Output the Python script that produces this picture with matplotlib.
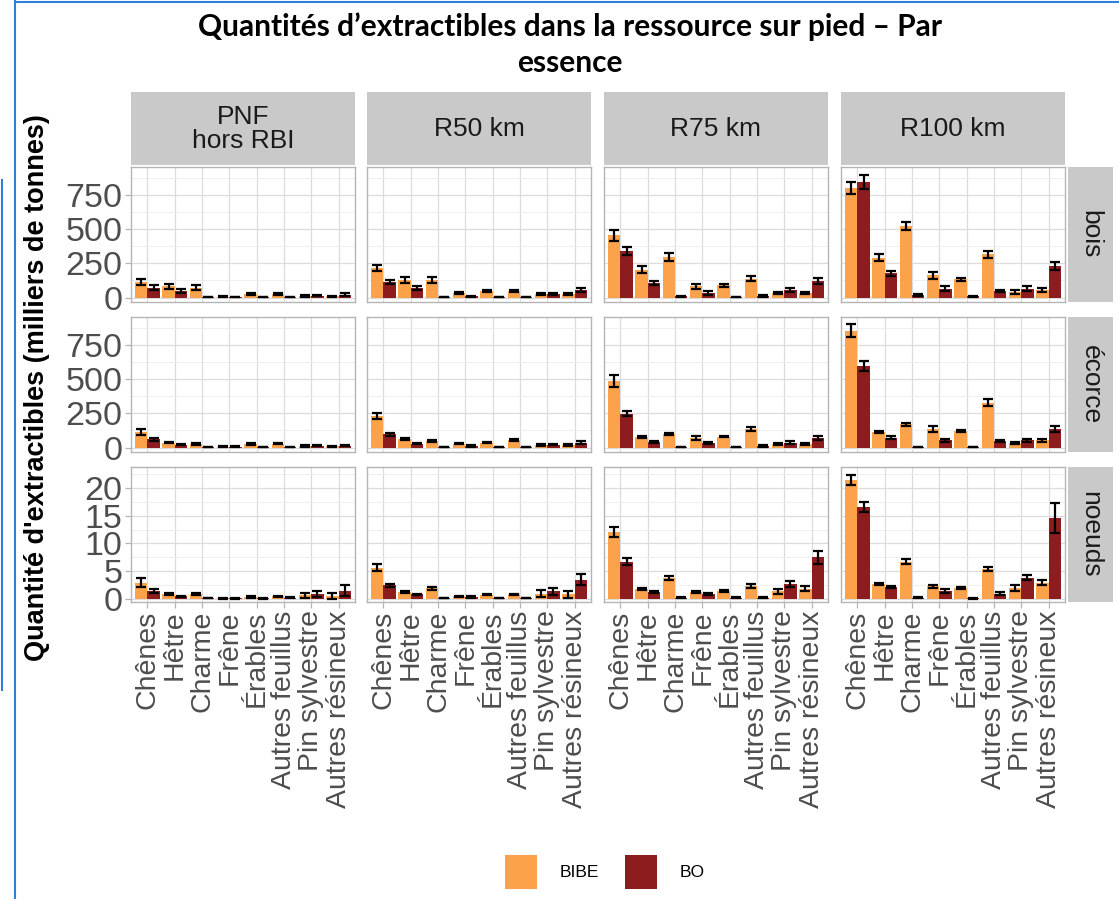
import matplotlib
matplotlib.use("Agg")
import matplotlib.pyplot as plt
import numpy as np
from matplotlib.lines import Line2D
from matplotlib.patches import Patch

plt.rcParams["font.family"] = ["Liberation Sans", "DejaVu Sans"]

especes = ["Chênes", "Hêtre", "Charme", "Frêne", "Érables",
           "Autres feuillus", "Pin sylvestre", "Autres résineux"]
zones = ["PNF\nhors RBI", "R50 km", "R75 km", "R100 km"]
parties = ["bois", "écorce", "noeuds"]

# one sub-list per zone (PNF, R50, R75, R100), values in thousands of tonnes
bibe_bois = [[115, 82, 73, 8, 24, 27, 12, 9],
             [216, 126, 131, 34, 48, 48, 29, 24],
             [454, 204, 296, 82, 90, 138, 34, 34],
             [799, 292, 522, 163, 133, 316, 41, 53]]
bibe_bois_err = [[22, 18, 20, 4, 6, 7, 5, 4],
                 [25, 22, 22, 8, 8, 8, 8, 6],
                 [40, 25, 30, 18, 10, 18, 10, 10],
                 [45, 25, 30, 25, 10, 25, 12, 15]]
bo_bois = [[73, 48, 5, 4, 5, 5, 14, 22],
           [114, 73, 5, 10, 5, 5, 29, 58],
           [340, 107, 10, 34, 5, 12, 53, 121],
           [843, 179, 20, 66, 10, 48, 66, 230]]
bo_bois_err = [[18, 15, 3, 3, 3, 3, 5, 10],
               [18, 15, 3, 5, 3, 3, 8, 15],
               [30, 15, 5, 12, 3, 5, 15, 25],
               [50, 18, 8, 15, 5, 10, 15, 30]]

bibe_ecorce = [[114, 36, 25, 8, 25, 29, 12, 10],
               [230, 61, 49, 29, 36, 54, 20, 20],
               [485, 80, 97, 73, 80, 138, 25, 25],
               [853, 116, 170, 134, 121, 327, 36, 54]]
bibe_ecorce_err = [[20, 5, 5, 3, 5, 5, 4, 4],
                   [25, 8, 8, 6, 6, 8, 5, 5],
                   [42, 8, 8, 15, 6, 15, 6, 6],
                   [47, 8, 12, 20, 10, 25, 8, 10]]
bo_ecorce = [[61, 20, 3, 6, 5, 5, 14, 14],
             [97, 29, 5, 12, 5, 5, 22, 36],
             [247, 41, 3, 34, 5, 12, 36, 73],
             [594, 73, 5, 54, 5, 49, 54, 134]]
bo_ecorce_err = [[12, 4, 2, 3, 2, 2, 4, 5],
                 [12, 5, 2, 4, 2, 2, 5, 10],
                 [20, 6, 2, 8, 2, 4, 10, 15],
                 [35, 8, 3, 10, 3, 8, 10, 20]]

bibe_noeuds = [[2.9, 0.85, 0.8, 0.1, 0.3, 0.4, 0.6, 0.5],
               [5.6, 1.2, 1.9, 0.4, 0.7, 0.8, 0.9, 0.8],
               [12.0, 1.8, 3.7, 1.2, 1.4, 2.3, 1.3, 1.8],
               [21.4, 2.7, 6.7, 2.25, 2.0, 5.4, 1.9, 2.9]]
bibe_noeuds_err = [[0.8, 0.2, 0.2, 0.1, 0.1, 0.1, 0.5, 0.5],
                   [0.6, 0.2, 0.3, 0.1, 0.1, 0.1, 0.6, 0.6],
                   [0.9, 0.2, 0.4, 0.2, 0.2, 0.3, 0.5, 0.5],
                   [0.9, 0.2, 0.4, 0.3, 0.2, 0.4, 0.5, 0.5]]
bo_noeuds = [[1.4, 0.45, 0.1, 0.05, 0.05, 0.2, 0.85, 1.4],
             [2.4, 0.8, 0.1, 0.3, 0.1, 0.1, 1.3, 3.4],
             [6.7, 1.2, 0.2, 0.9, 0.2, 0.2, 2.7, 7.5],
             [16.6, 2.1, 0.2, 1.4, 0.1, 0.9, 3.8, 14.6]]
bo_noeuds_err = [[0.4, 0.1, 0.05, 0.05, 0.05, 0.1, 0.5, 1.0],
                 [0.3, 0.1, 0.05, 0.1, 0.05, 0.05, 0.6, 1.0],
                 [0.6, 0.2, 0.1, 0.2, 0.1, 0.1, 0.5, 1.2],
                 [0.9, 0.2, 0.1, 0.3, 0.1, 0.3, 0.5, 2.7]]

series = {
    "bois": (bibe_bois, bibe_bois_err, bo_bois, bo_bois_err),
    "écorce": (bibe_ecorce, bibe_ecorce_err, bo_ecorce, bo_ecorce_err),
    "noeuds": (bibe_noeuds, bibe_noeuds_err, bo_noeuds, bo_noeuds_err),
}
ylims = {"bois": (-32, 952), "écorce": (-32, 952), "noeuds": (-0.6, 23.8)}
yticks = {"bois": [0, 250, 500, 750], "écorce": [0, 250, 500, 750],
          "noeuds": [0, 5, 10, 15, 20]}

c_bibe = "#FBA24B"
c_bo = "#8C1C1E"
strip_bg = "#C9C9C9"
tick_col = "#4D4D4D"

W, H = 1119, 899
fig = plt.figure(figsize=(W / 100, H / 100), dpi=100)


def box(x0, y0, x1, y1):
    # pixel box (top-left origin) -> figure fraction rect
    return [x0 / W, 1 - y1 / H, (x1 - x0) / W, (y1 - y0) / H]


col_x = [131, 367, 604, 841]
pan_w = 224
row_y = [167, 317, 467]
pan_h = 135

x = np.arange(len(especes))
bw = 0.45

for r, partie in enumerate(parties):
    bibe, bibe_err, bo, bo_err = series[partie]
    for c in range(len(zones)):
        ax = fig.add_axes(box(col_x[c], row_y[r], col_x[c] + pan_w, row_y[r] + pan_h))
        ax.bar(x - bw / 2, bibe[c], bw, color=c_bibe, zorder=3)
        ax.bar(x + bw / 2, bo[c], bw, color=c_bo, zorder=3)
        ax.errorbar(x - bw / 2, bibe[c], yerr=bibe_err[c], fmt="none",
                    ecolor="black", elinewidth=1.6, capsize=3.4, capthick=1.6, zorder=4)
        ax.errorbar(x + bw / 2, bo[c], yerr=bo_err[c], fmt="none",
                    ecolor="black", elinewidth=1.6, capsize=3.4, capthick=1.6, zorder=4)
        ax.set_xlim(-0.6, len(especes) - 0.4)
        ax.set_ylim(*ylims[partie])
        ax.set_xticks(x)
        ax.set_yticks(yticks[partie])
        step = yticks[partie][1]
        ax.set_yticks(np.arange(step / 2, ylims[partie][1], step), minor=True)
        ax.grid(True, which="major", color="#DCDCDC", lw=0.9, zorder=0)
        ax.grid(True, which="minor", axis="y", color="#EDEDED", lw=0.6, zorder=0)
        ax.set_axisbelow(True)
        for s in ax.spines.values():
            s.set_color("#B5B5B5")
            s.set_linewidth(1.0)
        ax.tick_params(which="minor", length=0)
        ax.tick_params(which="major", color="#B5B5B5", length=4, width=0.9,
                       labelcolor=tick_col)
        if c == 0:
            ax.tick_params(axis="y", labelsize=24.5, pad=2)
        else:
            ax.tick_params(axis="y", length=0, labelleft=False)
        if r == len(parties) - 1:
            ax.set_xticklabels(especes, rotation=90, fontsize=20.5,
                               va="top", ha="center")
            ax.tick_params(axis="x", pad=2)
        else:
            ax.tick_params(axis="x", length=0, labelbottom=False)

    # row strip on the right
    sax = fig.add_axes(box(1068, row_y[r], 1113, row_y[r] + pan_h))
    sax.set_facecolor(strip_bg)
    sax.set_xticks([])
    sax.set_yticks([])
    for s in sax.spines.values():
        s.set_visible(False)
    sax.text(0.5, 0.5, partie, rotation=-90, ha="center", va="center",
             fontsize=19, color="#1A1A1A", transform=sax.transAxes)

# column strips on top
for c, zone in enumerate(zones):
    sax = fig.add_axes(box(col_x[c], 92, col_x[c] + pan_w, 165))
    sax.set_facecolor(strip_bg)
    sax.set_xticks([])
    sax.set_yticks([])
    for s in sax.spines.values():
        s.set_visible(False)
    sax.text(0.5, 0.5, zone, ha="center", va="center", fontsize=19,
             color="#1A1A1A", linespacing=1.0, transform=sax.transAxes)

fig.text(570 / W, 1 - 27 / H,
         "Quantités d’extractibles dans la ressource sur pied – Par",
         ha="center", va="center", fontsize=21.5, fontweight="bold",
         family=["Lato", "DejaVu Sans"])
fig.text(570 / W, 1 - 63 / H, "essence", ha="center", va="center",
         fontsize=21.5, fontweight="bold", family=["Lato", "DejaVu Sans"])

fig.text(37 / W, 1 - 388 / H, "Quantité d'extractibles (milliers de tonnes)",
         rotation=90, ha="center", va="center", fontsize=19.5,
         fontweight="bold", color="black")

handles = [Patch(facecolor=c_bibe, label="BIBE"), Patch(facecolor=c_bo, label="BO")]
fig.legend(handles=handles, loc="center", bbox_to_anchor=(605 / W, 1 - 872 / H),
           ncol=2, frameon=False, fontsize=12.5, handlelength=1.85,
           handleheight=2.6, handletextpad=1.3, columnspacing=1.5)

# slide frame
blue = "#2F7FD8"
fig.add_artist(Line2D([15 / W, 15 / W], [0, 1], color=blue, lw=1.5))
fig.add_artist(Line2D([15 / W, 1], [1 - 1.5 / H, 1 - 1.5 / H], color=blue, lw=1.5))
fig.add_artist(Line2D([2 / W, 2 / W], [1 - 180 / H, 1 - 690 / H], color=blue, lw=1.5))

fig.savefig("out.png", dpi=100)
